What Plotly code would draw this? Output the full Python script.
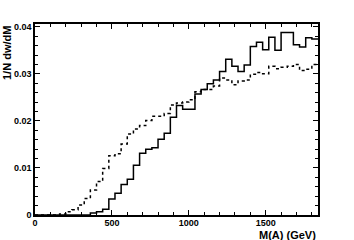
import plotly.graph_objects as go

# 40 GeV bins from 0 to 1840 GeV
bin_edges = [40 * i for i in range(47)]

solid_values = [
    0, 0, 0, 0, 0, 0, 0, 0, 0, 0.0004,
    0.0007, 0.0012, 0.0034, 0.0046, 0.0065, 0.0076, 0.0106, 0.0131, 0.0140, 0.0143,
    0.0161, 0.0174, 0.0208, 0.0233, 0.0225, 0.0225, 0.0257, 0.0267, 0.0279, 0.0287,
    0.0305, 0.0331, 0.0316, 0.0305, 0.0319, 0.0358, 0.0367, 0.0351, 0.0378, 0.0350,
    0.0388, 0.0388, 0.0362, 0.0357, 0.0377, 0.0374,
]

dotted_values = [
    0, 0, 0, 0, 0.0002, 0.0007, 0.0011, 0.0021, 0.0035, 0.0053,
    0.0071, 0.0099, 0.0126, 0.0130, 0.0151, 0.0172, 0.0183, 0.0190, 0.0201, 0.0210,
    0.0210, 0.0216, 0.0234, 0.0238, 0.0240, 0.0245, 0.0262, 0.0267, 0.0267, 0.0274,
    0.0291, 0.0287, 0.0277, 0.0285, 0.0287, 0.0299, 0.0303, 0.0300, 0.0316, 0.0311,
    0.0314, 0.0316, 0.0320, 0.0307, 0.0310, 0.0320,
]

x_tick_vals = [0, 500, 1000, 1500]
x_tick_text = ["0", "500", "1000", "1500"]
y_tick_vals = [0, 0.01, 0.02, 0.03, 0.04]
y_tick_text = ["0", "0.01", "0.02", "0.03", "0.04"]

fig = go.Figure()
fig.add_trace(go.Scatter(
    x=bin_edges, y=dotted_values + [dotted_values[-1]],
    mode="lines", line=dict(shape="hv", color="black", width=1.5, dash="dot"),
    showlegend=False,
))
fig.add_trace(go.Scatter(
    x=bin_edges, y=solid_values + [solid_values[-1]],
    mode="lines", line=dict(shape="hv", color="black", width=1.5),
    showlegend=False,
))

font = "Liberation Sans, Arial, Helvetica, sans-serif"
fig.update_layout(
    width=354, height=240, autosize=False,
    margin=dict(l=35, r=36, t=24, b=25, autoexpand=False),
    paper_bgcolor="white", plot_bgcolor="white",
    font=dict(family=font, size=9, color="black"),
)
fig.update_xaxes(
    range=[0, 1840], showgrid=False, zeroline=False, automargin=False,
    showline=True, linecolor="black", linewidth=1.5, mirror="ticks",
    ticks="inside", ticklen=5, tickwidth=1, tickcolor="black",
    tickvals=x_tick_vals, ticktext=x_tick_text, ticklabelstandoff=-2,
    tickfont=dict(family=font, size=9, color="black", weight="bold"),
    minor=dict(dtick=100, ticks="inside", ticklen=3, tickcolor="black", showgrid=False),
)
fig.update_yaxes(
    range=[0, 0.0406], showgrid=False, zeroline=False, automargin=False,
    showline=True, linecolor="black", linewidth=1.5, mirror="ticks",
    ticks="inside", ticklen=5, tickwidth=1, tickcolor="black",
    tickvals=y_tick_vals, ticktext=y_tick_text,
    tickfont=dict(family=font, size=9, color="black", weight="bold"),
    minor=dict(dtick=0.002, ticks="inside", ticklen=3, tickcolor="black", showgrid=False),
)
fig.add_annotation(
    text="<b>1/N dw/dM</b>", textangle=-90,
    xref="paper", yref="paper", x=0, y=1, xshift=-28,
    xanchor="center", yanchor="top", showarrow=False,
    font=dict(family=font, size=11, color="black"),
)
fig.add_annotation(
    text="<b>M(A) (GeV)</b>",
    xref="paper", yref="paper", x=1, y=0, yshift=-12,
    xanchor="right", yanchor="top", showarrow=False,
    font=dict(family=font, size=11, color="black"),
)
fig.write_html("out.html", post_script="document.body.style.margin='0';",
               config={"displayModeBar": False})
